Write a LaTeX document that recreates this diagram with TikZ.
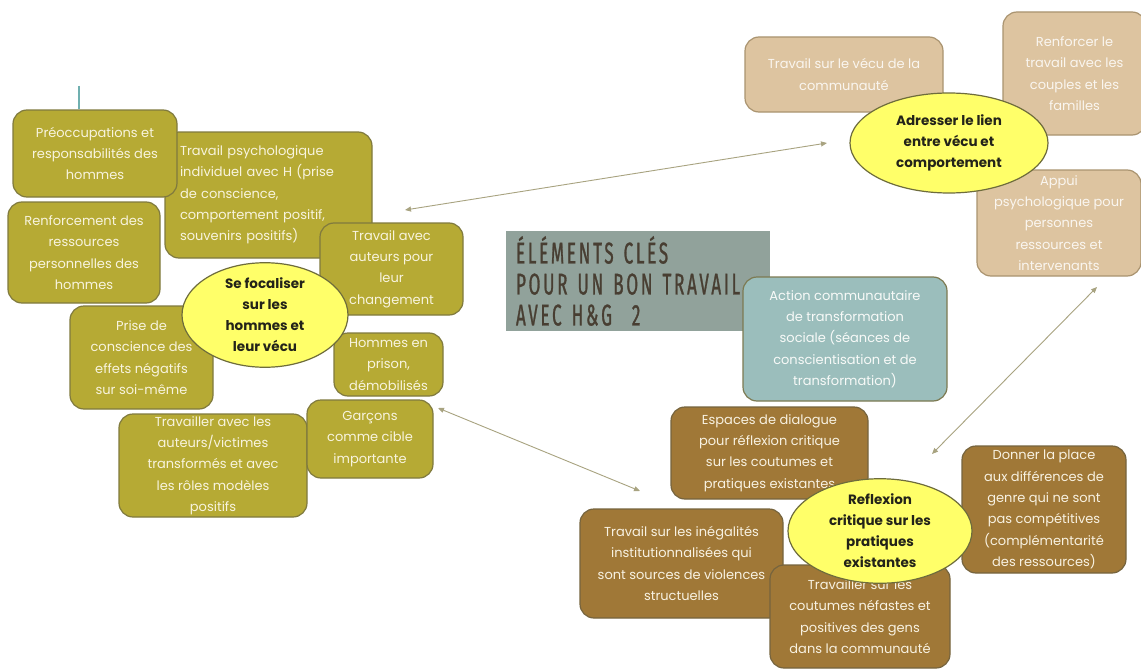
\documentclass[tikz,border=0pt]{standalone}
\usepackage{fontspec}
\setmainfont{Poppins}
\newfontfamily\titlefont[FakeStretch=0.57,LetterSpace=9,FakeBold=0.9]{Fira Sans}
\usetikzlibrary{arrows.meta,shapes.geometric}

\definecolor{olivefill}{RGB}{182,170,52}
\definecolor{oliveline}{RGB}{128,122,62}
\definecolor{olivetext}{RGB}{248,244,222}
\definecolor{tanfill}{RGB}{221,196,160}
\definecolor{tanline}{RGB}{170,148,112}
\definecolor{tantext}{RGB}{250,246,240}
\definecolor{brownfill}{RGB}{160,120,55}
\definecolor{brownline}{RGB}{118,100,62}
\definecolor{browntext}{RGB}{248,242,226}
\definecolor{tealfill}{RGB}{155,190,188}
\definecolor{tealline}{RGB}{125,122,82}
\definecolor{tealtext}{RGB}{248,250,248}
\definecolor{hubfill}{RGB}{255,255,105}
\definecolor{hubline}{RGB}{110,108,60}
\definecolor{hubtext}{RGB}{35,35,25}
\definecolor{titlefill}{RGB}{145,162,155}
\definecolor{titletext}{RGB}{72,62,50}
\definecolor{linkcol}{RGB}{168,163,128}
\definecolor{stemcol}{RGB}{112,176,176}

\tikzset{
  sz/.style 2 args={minimum width=#1pt, minimum height=#2pt},
  card/.style={rectangle, rounded corners=14pt, line width=1.2pt, align=center,
    inner sep=0pt, font=\fontsize{13}{21.3}\selectfont},
  olivebox/.style={card, fill=olivefill, draw=oliveline, text=olivetext},
  tanbox/.style={card, fill=tanfill, draw=tanline, text=tantext},
  brownbox/.style={card, fill=brownfill, draw=brownline, text=browntext},
  tealbox/.style={card, fill=tealfill, draw=tealline, text=tealtext},
  hub/.style={ellipse, fill=hubfill, draw=hubline, line width=1.2pt, inner sep=0pt,
    align=center, text=hubtext, font=\fontsize{13.5}{21}\selectfont\bfseries},
  titlebox/.style={rectangle, fill=titlefill, draw=none, inner sep=0pt, align=left,
    text=titletext, font=\titlefont\fontsize{30}{31}\selectfont},
  link/.style={{Triangle[width=5pt,length=6pt]}-{Triangle[width=5pt,length=6pt]},
    draw=linkcol, line width=0.9pt},
  stemline/.style={draw=stemcol, line width=1.3pt}
}

\begin{document}
\begin{tikzpicture}[x=1pt,y=-1pt]
\useasboundingbox[fill=white] (0,0) rectangle (1141,669);

% ---- men-focused cluster ----
\node[olivebox, sz={207}{126}, align=left, text width=177pt] (psy) at (268.5,195)
  {Travail psychologique\\individuel avec H (prise\\de conscience,\\comportement positif,\\souvenirs positifs)};
\node[olivebox, sz={164}{87}] (pre) at (95,153.5)
  {Préoccupations et\\responsabilités des\\hommes};
\node[olivebox, sz={152}{101}] (ren) at (84,252.5)
  {Renforcement des\\ressources\\personnelles des\\hommes};
\node[olivebox, sz={143}{92}] (aut) at (391.5,269)
  {Travail avec\\auteurs pour\\leur\\changement};
\node[olivebox, sz={143}{103}] (prise) at (141.5,357.5)
  {Prise de\\conscience des\\effets négatifs\\sur soi-même};
\node[olivebox, sz={109}{63}] (prison) at (388.5,364.5)
  {Hommes en\\prison,\\démobilisés};
\node[olivebox, sz={188}{103}] (vict) at (213,465.5)
  {Travailler avec les\\auteurs/victimes\\transformés et avec\\les rôles modèles\\positifs};
\node[olivebox, sz={126}{78}] (garcons) at (370,439)
  {Garçons\\comme cible\\importante};
\node[hub, sz={166}{86}] (focal) at (265,315)
  {Se focaliser\\sur les\\hommes et\\leur vécu};

\coordinate (stem) at (79,86);
\draw[stemline] (stem) -- (stem |- pre.north);

% ---- title and community action ----
\node[titlebox, sz={264}{100}, text width=244pt] (title) at (638,281)
  {ÉLÉMENTS CLÉS\\POUR UN BON TRAVAIL\\AVEC H\&G\ \ 2};
\node[tealbox, sz={204}{124}] (action) at (845,339)
  {Action communautaire\\de transformation\\sociale (séances de\\conscientisation et de\\transformation)};

% ---- lived experience cluster ----
\node[tanbox, sz={198}{75}] (vecu) at (844,74.5)
  {Travail sur le vécu de la\\communauté};
\node[tanbox, sz={143}{123}] (couples) at (1074.5,73.5)
  {Renforcer le\\travail avec les\\couples et les\\familles};
\node[tanbox, sz={164}{106}] (appui) at (1059,223)
  {Appui\\psychologique pour\\personnes\\ressources et\\intervenants};
\node[hub, sz={198}{100}] (lien) at (949,143)
  {Adresser le lien\\entre vécu et\\comportement};

% ---- critical reflection cluster ----
\node[brownbox, sz={197}{92}] (dialogue) at (769.5,453)
  {Espaces de dialogue\\pour réflexion critique\\sur les coutumes et\\pratiques existantes};
\node[brownbox, sz={203}{109}] (inegal) at (681.5,563.5)
  {Travail sur les inégalités\\institutionnalisées qui\\sont sources de violences\\structuelles};
\node[brownbox, sz={164}{127}] (genre) at (1044,509.5)
  {Donner la place\\aux différences de\\genre qui ne sont\\pas compétitives\\(complémentarité\\des ressources)};
\node[brownbox, sz={180}{103}] (coutumes) at (860,616.5)
  {Travailler sur les\\coutumes néfastes et\\positives des gens\\dans la communauté};
\node[hub, sz={184}{88}] (reflex) at (880,531)
  {Reflexion\\critique sur les\\pratiques\\existantes};

% ---- links between the clusters ----
\coordinate (linkAa) at (405,210);
\coordinate (linkAb) at (827,143);
\coordinate (linkBa) at (438,408);
\coordinate (linkBb) at (640,491);
\coordinate (linkCa) at (1097,287);
\coordinate (linkCb) at (932,454);
\draw[link] (linkAa) -- (linkAb);
\draw[link] (linkBa) -- (linkBb);
\draw[link] (linkCa) -- (linkCb);
\end{tikzpicture}
\end{document}
